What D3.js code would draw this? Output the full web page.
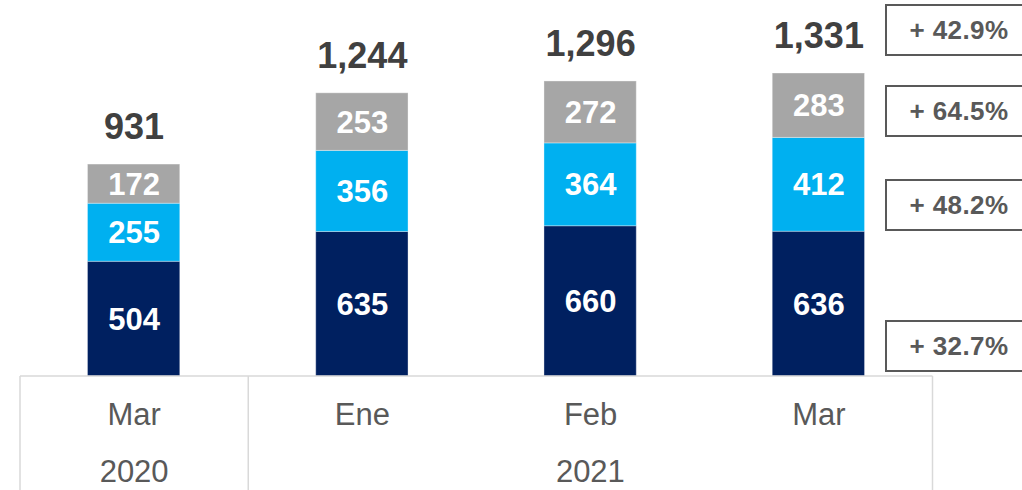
<!DOCTYPE html>
<html>
<head>
<meta charset="utf-8">
<script src="https://cdn.jsdelivr.net/npm/d3@7"></script>
<style>
  body { margin: 0; background: #fff; }
  svg { display: block; font-family: "Liberation Sans", Arial, sans-serif; }
</style>
</head>
<body>
<div id="chart"></div>
<script>
// data
var months = ["Mar", "Ene", "Feb", "Mar"];
var years = [{label: "2020", from: 0, to: 0}, {label: "2021", from: 1, to: 3}];
var seriesNames = ["base", "middle", "top"];
var base = [504, 635, 660, 636];
var middle = [255, 356, 364, 412];
var top_ = [172, 253, 272, 283];
var totals = [931, 1244, 1296, 1331];
var growthLabels = ["+ 42.9%", "+ 64.5%", "+ 48.2%", "+ 32.7%"];

var width = 1022, height = 490;
var margin = {top: 73, bottom: 114, left: 20, right: 89};

var colors = d3.scaleOrdinal(seriesNames, ["#002060", "#00B0F0", "#A6A6A6"]);

var svg = d3.select("#chart").append("svg")
    .attr("width", width)
    .attr("height", height)
    .attr("viewBox", [0, 0, width, height]);

var x = d3.scaleBand()
    .domain(d3.range(months.length))
    .range([margin.left, width - margin.right])
    .paddingInner(0.6)
    .paddingOuter(0.3);

var y = d3.scaleLinear()
    .domain([0, d3.max(totals)])
    .range([height - margin.bottom, margin.top]);

var rows = months.map((m, i) => ({i: i, base: base[i], middle: middle[i], top: top_[i]}));
var stacked = d3.stack().keys(seriesNames)(rows);

// bars
var layer = svg.selectAll(".layer")
  .data(stacked)
  .join("g")
    .attr("class", "layer")
    .attr("fill", d => colors(d.key));

layer.selectAll("rect")
  .data(d => d)
  .join("rect")
    .attr("x", d => x(d.data.i) - 1)
    .attr("y", d => y(d[1]))
    .attr("width", x.bandwidth() + 1)
    .attr("height", d => y(d[0]) - y(d[1]))
    .attr("stroke", "#fff")
    .attr("stroke-opacity", 0.35)
    .attr("stroke-width", 1);

// segment labels
layer.selectAll("text")
  .data(d => d)
  .join("text")
    .attr("x", d => x(d.data.i) + x.bandwidth() / 2)
    .attr("y", d => (y(d[0]) + y(d[1])) / 2)
    .attr("dy", "0.36em")
    .attr("text-anchor", "middle")
    .attr("fill", "#fff")
    .attr("font-weight", "bold")
    .attr("font-size", 31)
    .text(d => d3.format(",")(d[1] - d[0]));

// totals
svg.append("g").selectAll("text")
  .data(totals)
  .join("text")
    .attr("x", (d, i) => x(i) + x.bandwidth() / 2)
    .attr("y", d => y(d) - 25)
    .attr("text-anchor", "middle")
    .attr("fill", "#404040")
    .attr("font-weight", "bold")
    .attr("font-size", 36)
    .text(d => d3.format(",")(d));

// growth boxes on the right
var boxTops = [5, 86, 180, 321];
var boxX = 886, boxW = 150, boxH = 50;
var boxes = svg.append("g").selectAll("g")
  .data(growthLabels)
  .join("g")
    .attr("transform", (d, i) => `translate(${boxX},${boxTops[i]})`);

boxes.append("rect")
    .attr("width", boxW)
    .attr("height", boxH)
    .attr("fill", "#fff")
    .attr("stroke", "#595959")
    .attr("stroke-width", 2);

boxes.append("text")
    .attr("x", 73)
    .attr("y", boxH / 2)
    .attr("dy", "0.36em")
    .attr("text-anchor", "middle")
    .attr("fill", "#595959")
    .attr("font-weight", "bold")
    .attr("font-size", 26)
    .attr("letter-spacing", 0.4)
    .text(d => d);

// category table below the bars
var tableTop = y(0);
var step = x.step();
var tableLeft = margin.left;
var tableRight = x(months.length - 1) + x.bandwidth() / 2 + step / 2 - 0.5;
var divider = x(0) + x.bandwidth() / 2 + step / 2;

var grid = svg.append("g")
    .attr("stroke", "#D9D9D9")
    .attr("stroke-width", 1.5);

grid.append("line")
    .attr("x1", tableLeft).attr("x2", tableRight)
    .attr("y1", tableTop).attr("y2", tableTop);

[tableLeft, divider, tableRight].forEach(function(px) {
  grid.append("line")
      .attr("x1", px).attr("x2", px)
      .attr("y1", tableTop).attr("y2", height);
});

svg.append("g").selectAll("text")
  .data(months)
  .join("text")
    .attr("x", (d, i) => x(i) + x.bandwidth() / 2)
    .attr("y", 425)
    .attr("text-anchor", "middle")
    .attr("fill", "#595959")
    .attr("font-size", 31)
    .text(d => d);

svg.append("g").selectAll("text")
  .data(years)
  .join("text")
    .attr("x", d => {
      if (d.from === 0) return x(0) + x.bandwidth() / 2;
      return (divider + tableRight) / 2;
    })
    .attr("y", 482)
    .attr("text-anchor", "middle")
    .attr("fill", "#595959")
    .attr("font-size", 31)
    .text(d => d.label);
</script>
</body>
</html>
